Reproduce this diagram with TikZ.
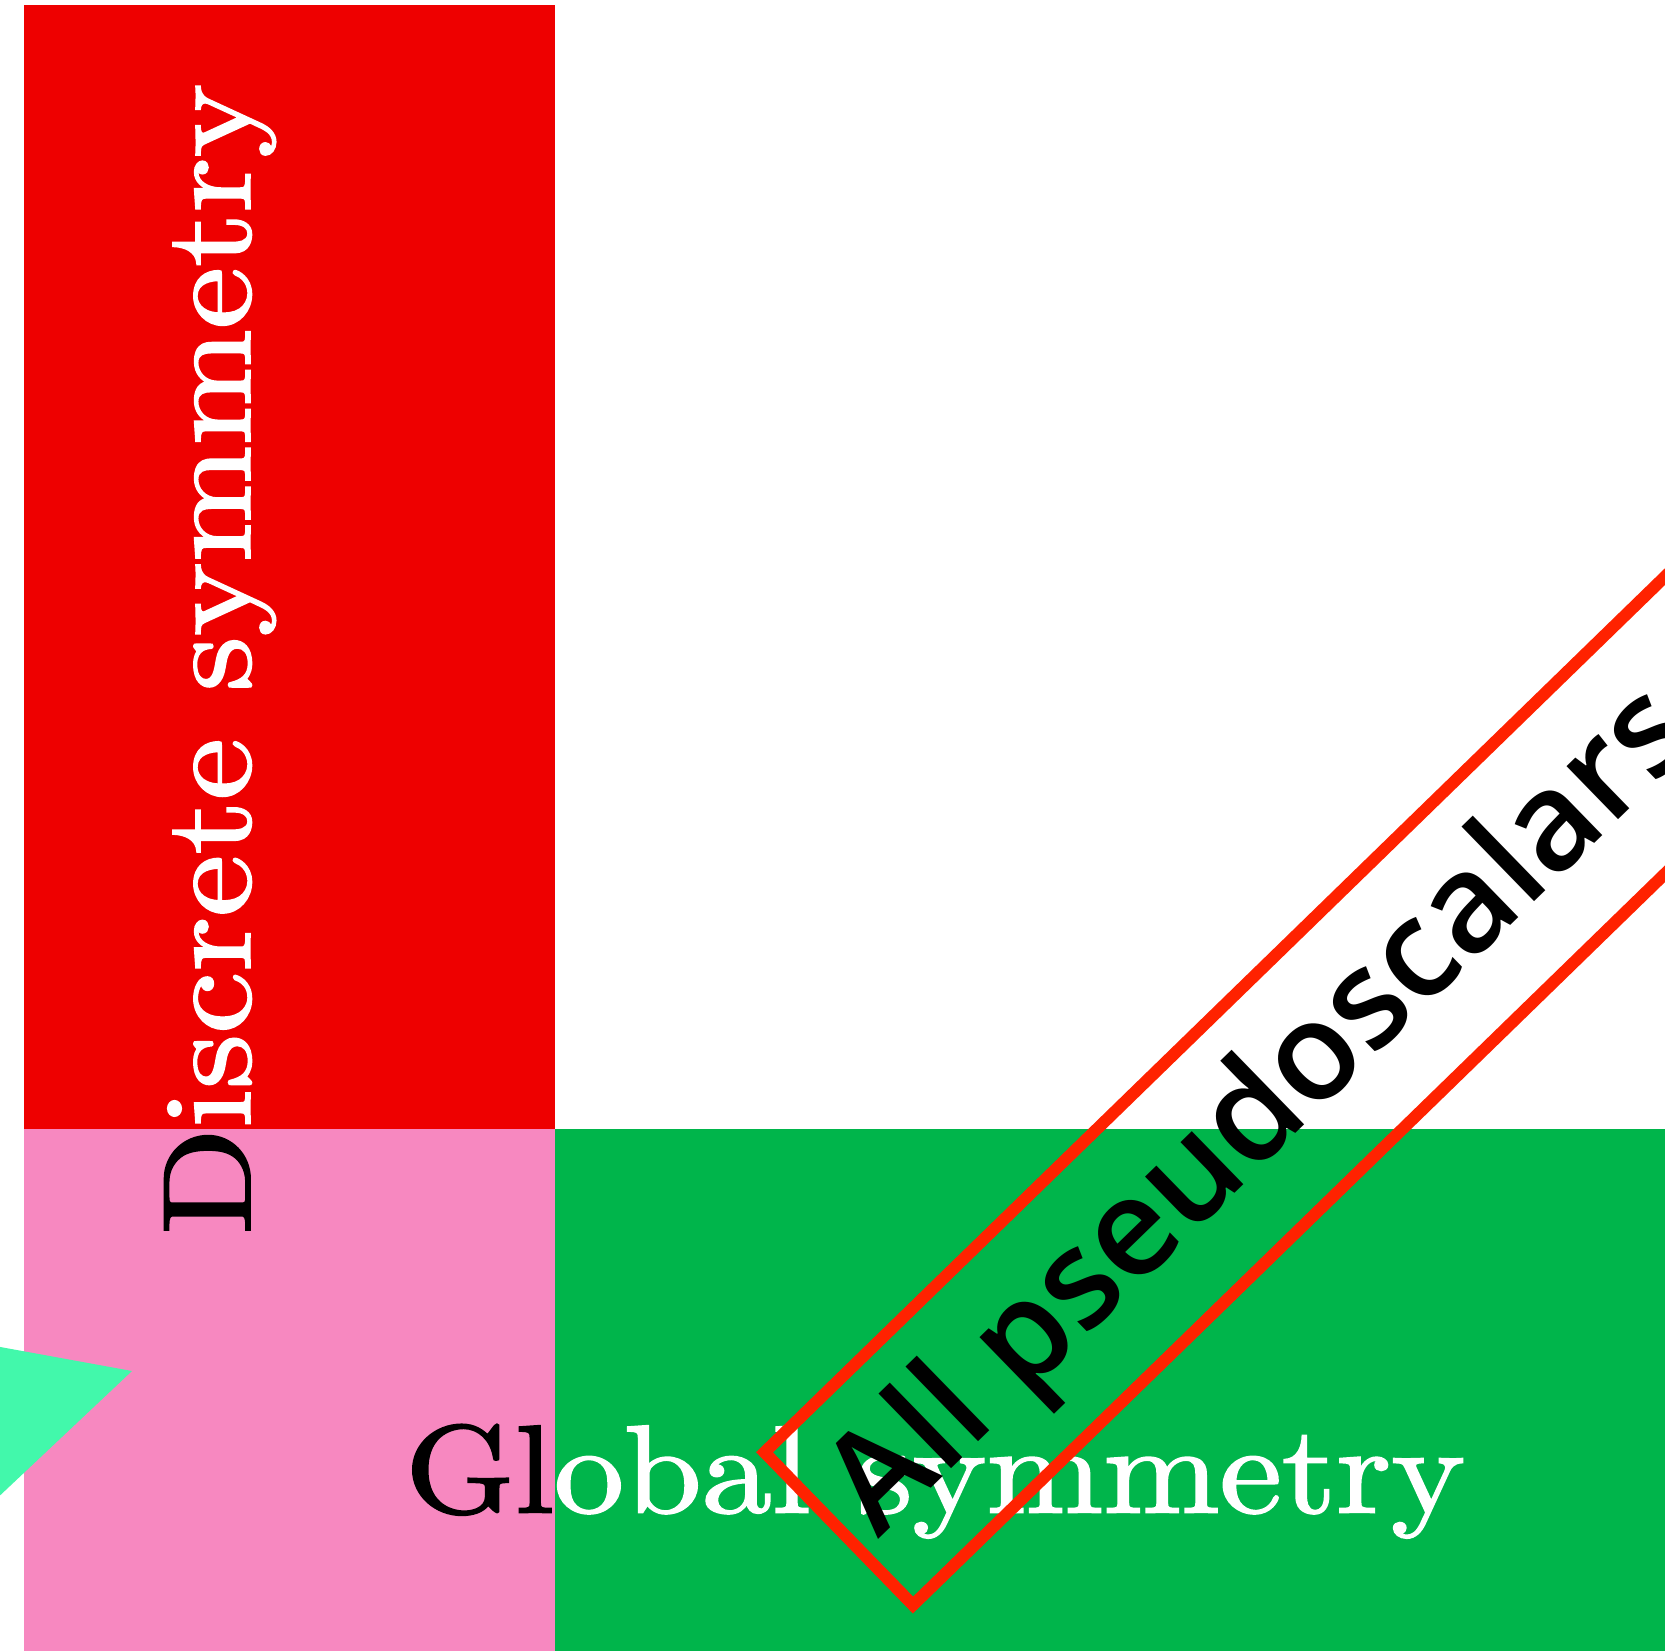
\documentclass[tikz,border=0pt]{standalone}
\usepackage{fontspec}
\newfontfamily\psfont{Open Sans Semibold}
\newfontfamily\lmheavy{Latin Modern Roman}[FakeBold=1.5]
\definecolor{discred}{HTML}{EE0000}
\definecolor{pinkbox}{HTML}{F788C0}
\definecolor{greenbox}{HTML}{00B54B}
\definecolor{mint}{HTML}{42F8AB}
\definecolor{outlinered}{HTML}{FF2200}
\newcommand{\bigtext}[1]{\scalebox{14}[12.5]{#1}}
\tikzset{
  bigserif/.style={font=\lmheavy\fontsize{10}{12}\selectfont, inner sep=0pt},
  pslabel/.style={draw=outlinered, line width=12pt, rotate=44.2, anchor=south west,
    outer sep=0pt, minimum height=213pt, inner xsep=21pt, inner ysep=0pt,
    font=\psfont\fontsize{137}{137}\selectfont, text=black}
}
\begin{document}
\begin{tikzpicture}[x=1pt,y=-1pt]
\useasboundingbox (0,0) rectangle (1665,1651);
\clip (0,0) rectangle (1665,1651);
\fill[white] (0,0) rectangle (1665,1651);
% regions
\fill[discred] (24,5) rectangle (555,1128.5);
\fill[pinkbox] (24,1128.5) rectangle (555,1651);
\fill[greenbox] (555,1128.5) rectangle (1665,1651);
% triangle
\fill[mint] (-60,1336) -- (132,1371) -- (-60,1552) -- cycle;
% Discrete symmetry (white on red, black on pink)
\begin{scope}
  \clip (0,0) rectangle (1665,1128.5);
  \node[bigserif, text=white, rotate=90, anchor=base west] (discW) at (250,1235) {\bigtext{Discrete symmetry}};
\end{scope}
\begin{scope}
  \clip (0,1128.5) rectangle (1665,1651);
  \node[bigserif, text=black, rotate=90, anchor=base west] (discB) at (250,1235) {\bigtext{Discrete symmetry}};
\end{scope}
% Global symmetry (black on pink, white on green)
\begin{scope}
  \clip (0,0) rectangle (555,1651);
  \node[bigserif, text=black, anchor=base west] (globB) at (405,1512.5) {\bigtext{Global symmetry}};
\end{scope}
\begin{scope}
  \clip (555,0) rectangle (1665,1651);
  \node[bigserif, text=white, anchor=base west] (globW) at (405,1512.5) {\bigtext{Global symmetry}};
\end{scope}
% All pseudoscalars (box runs on past the right edge)
\node[pslabel] (ps) at (913,1605) {All pseudoscalars\kern400pt\relax};
\end{tikzpicture}
\end{document}
